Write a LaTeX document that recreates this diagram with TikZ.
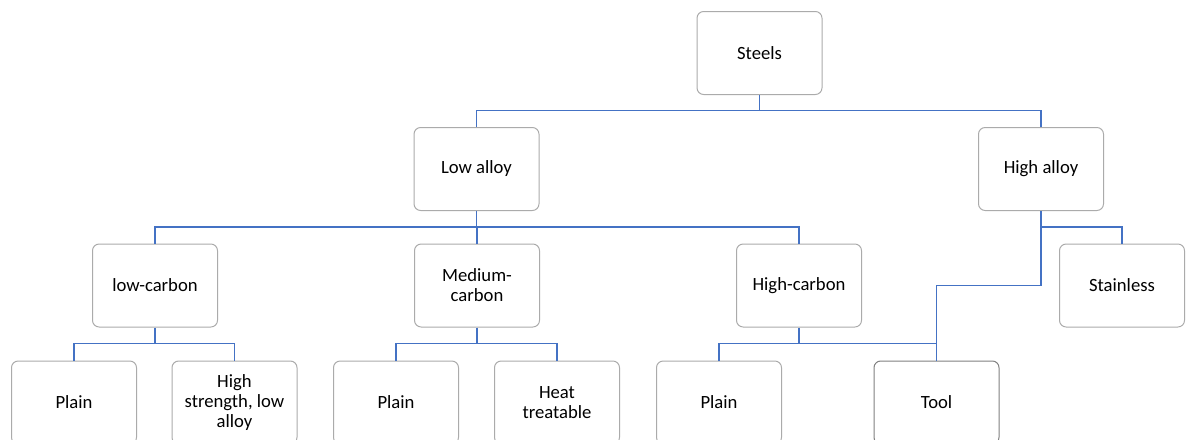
\documentclass[tikz,border=0pt]{standalone}
\usepackage{fontspec}
\setmainfont{Carlito}
\usetikzlibrary{calc}
\definecolor{linkblue}{HTML}{4472C4}
\definecolor{boxgray}{HTML}{ABABAB}
\begin{document}
\begin{tikzpicture}[
          x=0.75pt, y=-0.75pt,
          box/.style={draw=boxgray, line width=0.75pt, rounded corners=5pt,
            minimum width=93.75pt, minimum height=62.25pt, align=center,
            inner sep=2pt, font=\fontsize{14}{15}\selectfont},
          link/.style={draw=linkblue, line width=1.1pt}
        ]
        \useasboundingbox (0,0) rectangle (1187,439);
        \node[box] (steels) at (759.5,53) {Steels};
        \node[box] (low) at (476.5,169) {Low alloy};
        \node[box] (high) at (1041,169) {High alloy};
        \node[box] (lowc) at (155,285.5) {low-carbon};
        \node[box] (medc) at (477,285.5) {Medium-\\carbon};
        \node[box] (highc) at (799,285.5) {High-carbon};
        \node[box] (stainless) at (1122,285.5) {Stainless};
        \node[box] (plaina) at (74,402.5) {Plain};
        \node[box] (hsla) at (234.5,402.5) {High\\strength, low\\alloy};
        \node[box] (plainb) at (396,402.5) {Plain};
        \node[box] (heat) at (557,402.5) {Heat\\treatable};
        \node[box] (plainc) at (719,402.5) {Plain};
        \node[box, draw=gray] (tool) at (936.5,402.5) {Tool};

        % bars under each parent
        \draw[link] (steels.south) -- ++(0,-11.5pt) coordinate (b0) -| (low.north);
        \draw[link] (b0) -| (high.north);
        \draw[link] (low.south) -- ++(0,-12pt) coordinate (b1) -| (lowc.north);
        \draw[link] (b1) -| (highc.north);
        \draw[link] (b1) -| (medc.north);
        \draw[link] (high.south) -- ++(0,-12pt) coordinate (b2) -| (stainless.north);
        \draw[link] (b2) |- (tool.north |- highc) -- (tool.north);
        \draw[link] (lowc.south) -- ++(0,-12pt) coordinate (b3) -| (plaina.north);
        \draw[link] (b3) -| (hsla.north);
        \draw[link] (medc.south) -- ++(0,-12pt) coordinate (b4) -| (plainb.north);
        \draw[link] (b4) -| (heat.north);
        \draw[link] (highc.south) -- ++(0,-12pt) coordinate (b5) -| (plainc.north);
        \draw[link] (b5) -| (tool.north);
      \end{tikzpicture}
\end{document}
